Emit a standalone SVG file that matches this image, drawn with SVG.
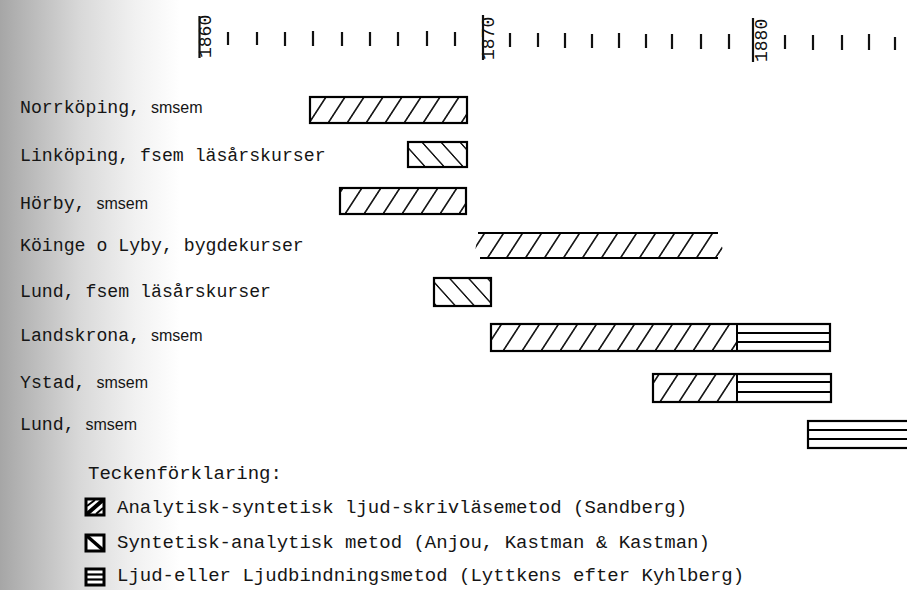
<svg xmlns="http://www.w3.org/2000/svg" width="907" height="590" viewBox="0 0 907 590">
<defs>
  <linearGradient id="shade" x1="0" y1="0" x2="1" y2="0">
    <stop offset="0" stop-color="#a6a6a6"/>
    <stop offset="0.12" stop-color="#b4b4b4"/>
    <stop offset="0.45" stop-color="#d9d9d9"/>
    <stop offset="0.75" stop-color="#f1f1f1"/>
    <stop offset="1" stop-color="#ffffff"/>
  </linearGradient>
  <pattern id="hatchA" patternUnits="userSpaceOnUse" width="19" height="60" patternTransform="skewX(-33)">
    <line x1="9" y1="0" x2="9" y2="60" stroke="#000" stroke-width="1.8"/>
  </pattern>
  <pattern id="hatchB" patternUnits="userSpaceOnUse" width="19" height="60" patternTransform="skewX(42)">
    <line x1="9" y1="0" x2="9" y2="60" stroke="#000" stroke-width="1.8"/>
  </pattern>
  <style>
    .lbl { font-family: "Liberation Mono", "DejaVu Sans Mono", monospace; font-size: 18.2px; fill: #151515; }
    .sans { font-family: "Liberation Sans", "DejaVu Sans", sans-serif; font-size: 16px; }
    .leg { font-family: "Liberation Mono", "DejaVu Sans Mono", monospace; font-size: 19px; fill: #151515; }
    .yr { font-family: "Liberation Mono", "DejaVu Sans Mono", monospace; font-size: 18px; fill: #111; }
    .tick { stroke: #111; stroke-width: 2.2; }
    .box { fill: none; stroke: #000; stroke-width: 2.2; }
    .stripe { stroke: #000; stroke-width: 2; }
  </style>
</defs>

<rect x="0" y="0" width="907" height="590" fill="#fff"/>
<rect x="0" y="0" width="180" height="590" fill="url(#shade)"/>

<g id="axis">
  <line class="tick" x1="199.5" y1="16" x2="199.5" y2="58"/>
  <text class="yr" transform="translate(211,58) rotate(-90)">1860</text>
  <line class="tick" x1="483" y1="15" x2="483" y2="60"/>
  <text class="yr" transform="translate(494,60) rotate(-90)">1870</text>
  <line class="tick" x1="753" y1="18" x2="753" y2="62"/>
  <text class="yr" transform="translate(767,62) rotate(-90)">1880</text>
  <g>
    <line class="tick" x1="228" y1="32" x2="228" y2="45"/>
    <line class="tick" x1="257" y1="32" x2="257" y2="45"/>
    <line class="tick" x1="285" y1="32" x2="285" y2="46"/>
    <line class="tick" x1="313" y1="31" x2="313" y2="46"/>
    <line class="tick" x1="342" y1="32" x2="342" y2="46"/>
    <line class="tick" x1="370" y1="32" x2="370" y2="46"/>
    <line class="tick" x1="398" y1="32" x2="398" y2="46"/>
    <line class="tick" x1="427" y1="31" x2="427" y2="46"/>
    <line class="tick" x1="455" y1="32" x2="455" y2="46"/>
    <line class="tick" x1="510" y1="33" x2="510" y2="47"/>
    <line class="tick" x1="538" y1="33" x2="538" y2="47"/>
    <line class="tick" x1="565" y1="33" x2="565" y2="48"/>
    <line class="tick" x1="592" y1="34" x2="592" y2="48"/>
    <line class="tick" x1="619" y1="33" x2="619" y2="48"/>
    <line class="tick" x1="646" y1="34" x2="646" y2="48"/>
    <line class="tick" x1="672" y1="34" x2="672" y2="49"/>
    <line class="tick" x1="701" y1="34" x2="701" y2="49"/>
    <line class="tick" x1="729" y1="34" x2="729" y2="49"/>
    <line class="tick" x1="785" y1="35" x2="785" y2="49"/>
    <line class="tick" x1="813" y1="35" x2="813" y2="50"/>
    <line class="tick" x1="842" y1="35" x2="842" y2="50"/>
    <line class="tick" x1="869" y1="34" x2="869" y2="50"/>
    <line class="tick" x1="895" y1="37" x2="895" y2="50"/>
  </g>
</g>

<g id="row-norrkoping">
  <text class="lbl" x="20" y="113">Norrköping, <tspan class="sans">smsem</tspan></text>
  <rect x="310" y="97" width="157" height="26" fill="url(#hatchA)"/>
  <rect class="box" x="310" y="97" width="157" height="26"/>
</g>

<g id="row-linkoping">
  <text class="lbl" x="20" y="161">Linköping, fsem läsårskurser</text>
  <rect x="408" y="142" width="59" height="25" fill="url(#hatchB)"/>
  <rect class="box" x="408" y="142" width="59" height="25"/>
</g>

<g id="row-horby">
  <text class="lbl" x="20" y="209">Hörby, <tspan class="sans">smsem</tspan></text>
  <rect x="340" y="188" width="126" height="26" fill="url(#hatchA)"/>
  <rect class="box" x="340" y="188" width="126" height="26"/>
</g>

<g id="row-koinge">
  <text class="lbl" x="20" y="251">Köinge o Lyby, bygdekurser</text>
  <polygon points="474,258 478,233 718,233 723,250 716,258" fill="url(#hatchA)"/>
  <line class="stripe" x1="478" y1="233" x2="718" y2="233" stroke-width="2.2"/>
  <line class="stripe" x1="480" y1="258" x2="718" y2="258" stroke-width="2.2"/>
</g>

<g id="row-lund-fsem">
  <text class="lbl" x="20" y="297">Lund, fsem läsårskurser</text>
  <rect x="434" y="278" width="57" height="28" fill="url(#hatchB)"/>
  <rect class="box" x="434" y="278" width="57" height="28"/>
</g>

<g id="row-landskrona">
  <text class="lbl" x="20" y="341">Landskrona, <tspan class="sans">smsem</tspan></text>
  <rect x="491" y="324" width="246" height="27" fill="url(#hatchA)"/>
  <line class="stripe" x1="737" y1="333" x2="830" y2="333"/>
  <line class="stripe" x1="737" y1="342" x2="830" y2="342"/>
  <line class="stripe" x1="737" y1="324" x2="737" y2="351"/>
  <rect class="box" x="491" y="324" width="339" height="27"/>
</g>

<g id="row-ystad">
  <text class="lbl" x="20" y="388">Ystad, <tspan class="sans">smsem</tspan></text>
  <rect x="653" y="374" width="84" height="28" fill="url(#hatchA)"/>
  <line class="stripe" x1="737" y1="382" x2="831" y2="382"/>
  <line class="stripe" x1="737" y1="392" x2="831" y2="392"/>
  <line class="stripe" x1="737" y1="374" x2="737" y2="402"/>
  <rect class="box" x="653" y="374" width="178" height="28"/>
</g>

<g id="row-lund-smsem">
  <text class="lbl" x="20" y="430">Lund, <tspan class="sans">smsem</tspan></text>
  <rect class="box" x="808" y="421" width="110" height="27"/>
  <line class="stripe" x1="808" y1="430" x2="907" y2="430"/>
  <line class="stripe" x1="808" y1="439" x2="907" y2="439"/>
</g>

<g id="legend">
  <text class="leg" x="88" y="479">Teckenförklaring:</text>
  <g id="legend-a">
    <rect x="86" y="499" width="18" height="16" fill="#fff" stroke="#000" stroke-width="3"/>
    <line x1="87" y1="514" x2="103" y2="500" stroke="#000" stroke-width="4"/>
    <line x1="87" y1="506" x2="95" y2="500" stroke="#000" stroke-width="2"/>
    <line x1="96" y1="514" x2="103" y2="508" stroke="#000" stroke-width="2"/>
    <text class="leg" x="117" y="513">Analytisk-syntetisk ljud-skrivläsemetod (Sandberg)</text>
  </g>
  <g id="legend-b">
    <rect x="86" y="535" width="18" height="16" fill="#fff" stroke="#000" stroke-width="3"/>
    <line x1="87" y1="536" x2="103" y2="550" stroke="#000" stroke-width="3.5"/>
    <text class="leg" x="117" y="548">Syntetisk-analytisk metod (Anjou, Kastman &amp; Kastman)</text>
  </g>
  <g id="legend-c">
    <rect x="86" y="569" width="18" height="16" fill="#fff" stroke="#000" stroke-width="3"/>
    <line x1="86" y1="574.5" x2="104" y2="574.5" stroke="#000" stroke-width="2.2"/>
    <line x1="86" y1="579.5" x2="104" y2="579.5" stroke="#000" stroke-width="2.2"/>
    <text class="leg" x="117" y="581">Ljud-eller Ljudbindningsmetod (Lyttkens efter Kyhlberg)</text>
  </g>
</g>
</svg>
